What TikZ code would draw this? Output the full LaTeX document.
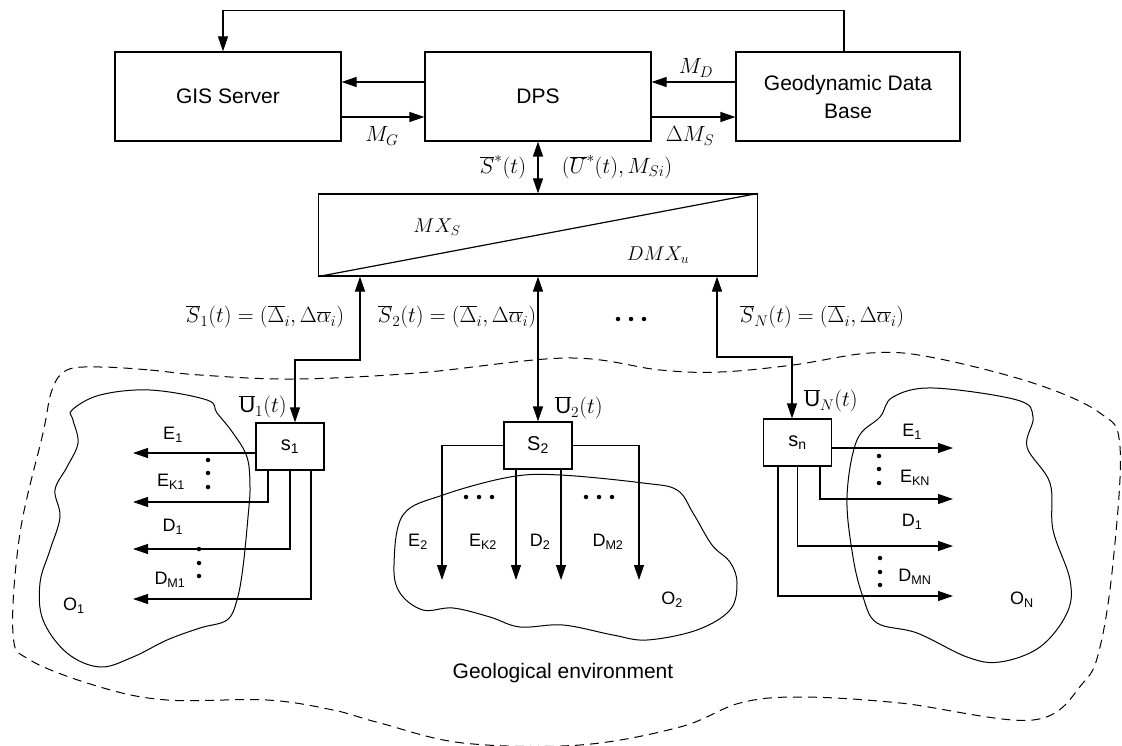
\RequirePackage{fix-cm}
\documentclass[tikz,border=0pt]{standalone}
\usepackage{fontspec}
\setmainfont{Liberation Sans}
\usetikzlibrary{arrows.meta}
\begin{document}
\begin{tikzpicture}[x=1pt,y=-1pt, line width=1.2pt,
 arr/.style={-{Triangle[length=15pt,width=10pt]}},
 dblarr/.style={{Triangle[length=15pt,width=10pt]}-{Triangle[length=15pt,width=10pt]}},
 bigbox/.style={draw, rectangle, minimum width=226pt, minimum height=89pt, font=\fontsize{21}{28}\selectfont, align=center, inner sep=0pt},
 sbox/.style={draw, rectangle, minimum width=68pt, minimum height=47pt, font=\fontsize{20}{22}\selectfont, inner sep=0pt, fill=white},
 lab/.style={font=\fontsize{18}{20}\selectfont, inner sep=0pt},
 mlab/.style={font=\fontsize{22}{24}\selectfont, inner sep=0pt},
 mxlab/.style={font=\fontsize{20}{22}\selectfont, inner sep=0pt},
 blob/.style={line width=1pt},
 env/.style={dash pattern=on 9pt off 6pt, line width=1pt},
 dot/.style={fill, circle, inner sep=0pt, minimum size=4.5pt}]

\useasboundingbox (0,0) rectangle (1122,746);

% environment outline and objects
\draw[env] plot[smooth cycle, tension=0.6] coordinates {
 (100,367) (150,370) (200,375) (293,379) (417,373) (567,358) (660,370) (720,372)
 (793,365) (870,353) (930,357) (1033,383) (1100,413) (1120,447) (1113,563)
 (1100,647) (1083,683) (1033,720) (900,703) (800,697) (740,703) (680,727)
 (580,745) (463,743) (380,723) (333,710) (267,700) (167,700) (100,687)
 (30,660) (13,633) (20,533) (43,433) (52,390) (67,370)};

\draw[blob] plot[smooth cycle, tension=0.6] coordinates {
 (72,410) (100,395) (150,390) (207,400) (217,413) (233,433) (247,457) (250,487)
 (248,517) (243,567) (237,600) (227,620) (200,628) (167,640) (133,657) (100,667)
 (67,653) (43,620) (40,583) (50,550) (60,517) (55,490) (67,467) (78,443) (73,420)};

\draw[blob] plot[smooth cycle, tension=0.6] coordinates {
 (403,515) (443,495) (510,477) (560,475) (643,483) (677,490) (693,513) (712,545)
 (730,562) (737,583) (730,610) (697,630) (647,640) (613,635) (563,625) (520,627)
 (490,617) (453,608) (423,610) (400,593) (394,565)};

\draw[blob] plot[smooth cycle, tension=0.6] coordinates {
 (893,397) (933,388) (1017,400) (1033,417) (1027,447) (1050,483) (1053,530)
 (1070,580) (1067,613) (1040,647) (1000,662) (967,657) (917,633) (877,623)
 (863,597) (853,557) (847,497) (857,440) (880,417)};

% top boxes
\node[bigbox] (gis) at (228,96.5) {GIS Server};
\node[bigbox] (dps) at (538,96.5) {DPS};
\node[bigbox, minimum width=224pt] (gdb) at (848,96.5) {Geodynamic Data\\Base};

\draw[arr] ([xshift=-4pt]gdb.north) -- ++(0,-41) -| ([xshift=-5pt]gis.north);
\draw[arr] ([yshift=14.5pt]dps.west) -- ([yshift=14.5pt]gis.east);
\draw[arr] ([yshift=-20.5pt]gis.east) -- ([yshift=-20.5pt]dps.west);
\draw[arr] ([yshift=14.5pt]gdb.west) -- ([yshift=14.5pt]dps.east);
\draw[arr] ([yshift=-20.5pt]dps.east) -- ([yshift=-20.5pt]gdb.west);
\node[mlab] (lmg) at (382,136) {$M_G$};
\node[mlab] (lmd) at (696,68) {$M_D$};
\node[mlab] (lms) at (690,136) {$\Delta M_S$};

% MX box
\node[draw, minimum width=439pt, minimum height=82pt, inner sep=0pt] (mx) at (538,235) {};
\draw (mx.south west) -- (mx.north east);
\node[mxlab] (lmx) at (437,227) {$MX_S$};
\node[mxlab] (ldmx) at (658,255) {$DMX_u$};

\draw[dblarr] (dps.south) -- (mx.north);
\node[mlab] (lsst) at (503,167) {$\overline{S}^{*}(t)$};
\node[mlab] (lust) at (617,167) {$(\overline{U}^{*}(t),M_{Si})$};

% row labels
\node[mlab] (ls1) at (265,317) {$\overline{S}_1(t)=(\overline{\Delta}_i,\Delta\overline{\alpha}_i)$};
\node[mlab] (ls2) at (457,317) {$\overline{S}_2(t)=(\overline{\Delta}_i,\Delta\overline{\alpha}_i)$};
\node[mlab] (lsn) at (822,317) {$\overline{S}_N(t)=(\overline{\Delta}_i,\Delta\overline{\alpha}_i)$};
\node[dot] (hd1) at (618,319) {};
\node[dot] (hd2) at (631,319) {};
\node[dot] (hd3) at (644,319) {};

% sensor boxes
\node[sbox] (s1) at (290,446.5) {s\textsubscript{1}};
\node[sbox] (s2) at (538,445.5) {S\textsubscript{2}};
\node[sbox] (sn) at (797.5,442.5) {s\textsubscript{n}};

\draw[dblarr] ([xshift=-178pt]mx.south) -- (360,360) -| ([xshift=5pt]s1.north);
\draw[dblarr] (mx.south) -- (s2.north);
\draw[dblarr] ([xshift=179pt]mx.south) -- (717,357) -| ([xshift=-5.5pt]sn.north);

\node[mlab] (lu1) at (263,407) {$\overline{\mathrm{U}}_1(t)$};
\node[mlab] (lu2) at (579,408) {$\overline{\mathrm{U}}_2(t)$};
\node[mlab] (lun) at (831,401) {$\overline{\mathrm{U}}_N(t)$};

% s1 outputs
\coordinate (a11) at (133,453);
\coordinate (a12) at (133,502);
\coordinate (a13) at (133,549);
\coordinate (a14) at (133,599);
\draw[arr] ([yshift=-6.5pt]s1.west) -- (a11);
\draw[arr] ([xshift=-22pt]s1.south) |- (a12);
\draw[arr] (s1.south) |- (a13);
\draw[arr] ([xshift=21pt]s1.south) |- (a14);
\node[lab] (le1) at (173,435) {E\textsubscript{1}};
\node[lab] (lek1) at (171,482) {E\textsubscript{K1}};
\node[lab] (ld1) at (173,527) {D\textsubscript{1}};
\node[lab] (ldm1) at (170,580) {D\textsubscript{M1}};
\node[lab] (lo1) at (74,606) {O\textsubscript{1}};
\foreach \y in {460,473,487} \node[dot] at (208,\y) {};
\foreach \y in {549,563,576} \node[dot] at (199,\y) {};

% s2 outputs
\coordinate (b21) at (442,580);
\coordinate (b22) at (516,580);
\coordinate (b23) at (561,580);
\coordinate (b24) at (639,580);
\draw[arr] (s2.west) -| (b21);
\draw[arr] ([xshift=-22pt]s2.south) -- (b22);
\draw[arr] ([xshift=23pt]s2.south) -- (b23);
\draw[arr] (s2.east) -| (b24);
\node[lab] (le2) at (418,542) {E\textsubscript{2}};
\node[lab] (lek2) at (483,542) {E\textsubscript{K2}};
\node[lab] (ld2) at (540,542) {D\textsubscript{2}};
\node[lab] (ldm2) at (608,542) {D\textsubscript{M2}};
\node[lab] (lo2) at (672,600) {O\textsubscript{2}};
\foreach \x in {466,479,492,586,599,612} \node[dot] at (\x,497) {};

% sn outputs
\coordinate (c1) at (953,448);
\coordinate (c2) at (953,499);
\coordinate (c3) at (953,546);
\coordinate (c4) at (953,596);
\draw[arr] ([yshift=-5.5pt]sn.east) -- (c1);
\draw[arr] ([xshift=22.5pt]sn.south) |- (c2);
\draw[arr] (sn.south) |- (c3);
\draw[arr] ([xshift=-19.5pt]sn.south) |- (c4);
\node[lab] (len1) at (912,432) {E\textsubscript{1}};
\node[lab] (lekn) at (915,478) {E\textsubscript{KN}};
\node[lab] (ldn1) at (912,522) {D\textsubscript{1}};
\node[lab] (ldmn) at (915,577) {D\textsubscript{MN}};
\node[lab] (lon) at (1022,600) {O\textsubscript{N}};
\foreach \y in {456,469,483} \node[dot] at (879,\y) {};
\foreach \y in {558,572,585} \node[dot] at (880,\y) {};

\node[font=\fontsize{21}{25}\selectfont, inner sep=0pt] (geo) at (563,673) {Geological environment};
\end{tikzpicture}
\end{document}
